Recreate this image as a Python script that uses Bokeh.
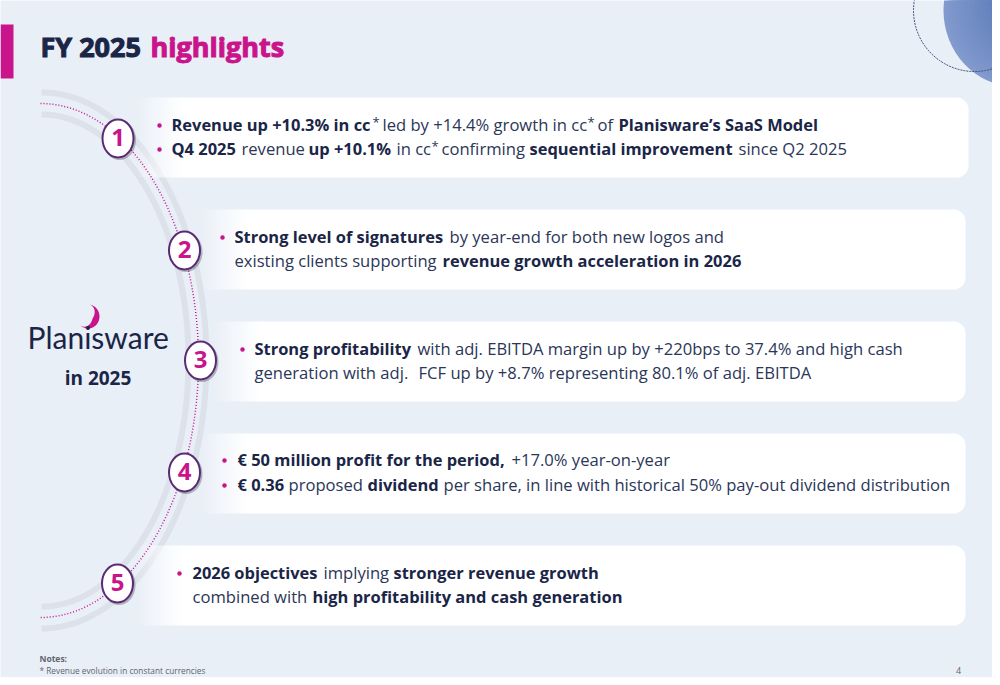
import numpy as np
from bokeh.core.properties import value
from bokeh.embed import file_html
from bokeh.models import Range1d
from bokeh.plotting import figure
from bokeh.resources import INLINE

# ---- content
TITLE_RUNS = ["FY 2025", "highlights"]
NUMBERS = ["1", "2", "3", "4", "5"]
LOGO = "Planisware"
LOGO_SUB = "in 2025"
NOTES_HEAD = "Notes:"
NOTES_BODY = "* Revenue evolution in constant currencies"
PAGE = "4"
# (text, weight) runs, one list per line; "*" marks are superscripts
CARD1_LINE1 = [("Revenue up +10.3% in cc", "b"), ("*", "s"), ("led by +14.4% growth in cc", "r"), ("*", "s"),
               ("of", "r"), ("Planisware’s SaaS Model", "b")]
CARD1_LINE2 = [("Q4 2025", "b"), ("revenue", "r"), ("up +10.1%", "b"), ("in cc", "r"), ("*", "s"),
               ("confirming", "r"), ("sequential improvement", "b"), ("since Q2 2025", "r")]
CARD2_LINE1 = [("Strong level of signatures", "b"), ("by year-end for both new logos and", "r")]
CARD2_LINE2 = [("existing clients supporting", "r"), ("revenue growth acceleration in 2026", "b")]
CARD3_LINE1 = [("Strong profitability", "b"), ("with adj. EBITDA margin up by +220bps to 37.4% and high cash", "r")]
CARD3_LINE2 = [("generation with adj.", "r"), ("FCF up by +8.7% representing 80.1% of adj. EBITDA", "r")]
CARD4_LINE1 = [("€ 50 million profit for the period,", "b"), ("+17.0% year-on-year", "r")]
CARD4_LINE2 = [("€ 0.36", "b"), ("proposed", "r"), ("dividend", "b"),
               ("per share, in line with historical 50% pay-out dividend distribution", "r")]
CARD5_LINE1 = [("2026 objectives", "b"), ("implying", "r"), ("stronger revenue growth", "b")]
CARD5_LINE2 = [("combined with", "r"), ("high profitability and cash generation", "b")]

# ---- layout (pixels of the 1000x685 slide)
BG, NAVY, INK, PINK, PURPLE = "#e9eff7", "#1a2547", "#2b3658", "#c9148c", "#5b2a74"
FONT = "Open Sans"
BODY_SIZE, BOLD_SIZE = 16.6, 16.45
BASE_SHIFT = 0.4   # share of the font size by which the renderer lowers a baseline
BASE_NUDGE = 1

RUN_X = {
    "c1l1": [171, 372, 382, 587, 597, 618], "c1l2": [171, 241, 308, 396, 431, 441, 529, 738],
    "c2l1": [234, 449], "c2l2": [234, 442],
    "c3l1": [254, 417], "c3l2": [254, 418],
    "c4l1": [237, 511], "c4l2": [237, 288, 367, 443],
    "c5l1": [192, 323, 393], "c5l2": [192, 312],
}
LINES = [
    ("c1l1", CARD1_LINE1, 132, 159), ("c1l2", CARD1_LINE2, 156, 159),
    ("c2l1", CARD2_LINE1, 244, 222), ("c2l2", CARD2_LINE2, 268, None),
    ("c3l1", CARD3_LINE1, 356, 242), ("c3l2", CARD3_LINE2, 380, None),
    ("c4l1", CARD4_LINE1, 467, 224), ("c4l2", CARD4_LINE2, 492, 224),
    ("c5l1", CARD5_LINE1, 580, 179), ("c5l2", CARD5_LINE2, 604, None),
]
CARDS = [(135, 968, 97, 177), (200, 965, 209, 289), (212, 965, 321, 401), (200, 965, 433, 513), (135, 965, 545, 625)]
BADGES = [(117.5, 138), (184, 250), (200, 360), (184, 472), (117, 583)]

W, H = 992, 677
p = figure(width=W, height=H, output_backend="svg", toolbar_location=None,
           x_range=Range1d(0, W), y_range=Range1d(H, 0), min_border=0,
           background_fill_color=BG, border_fill_color=BG, outline_line_color=None)
p.axis.visible = False
p.grid.visible = False

def arc(cx, cy, a, b, t0, t1, n=160):
    t = np.linspace(t0, t1, n)
    return cx + a * np.cos(t), cy + b * np.sin(t)

# decorative corner
BLOB_STEPS = 24
for i in range(BLOB_STEPS):
    f = i / (BLOB_STEPS - 1)
    c = "#%02x%02x%02x" % (int(130 - 58 * f), int(154 - 46 * f), int(206 - 32 * f))
    p.ellipse(x=1015 + 30 * f, y=10 - 20 * f, width=2 * 72 * (1 - .8 * f), height=2 * 76 * (1 - .8 * f),
              fill_color=c, line_color=None)
xs, ys = arc(974, 10, 61, 61, 0, 2 * np.pi, 200)
p.line(xs, ys, line_color="#3f4f78", line_width=1, line_dash=[2, 1])

# header bar
p.quad(left=0, right=13, top=24, bottom=78, fill_color=PINK, line_color=None)

# arc bands
TH = np.pi / 2
for a, b in [(165, 268), (147, 246)]:
    xs, ys = arc(41, 360, a, b, -TH, TH, 240)
    p.line(xs, ys, line_color="#dce1ea", line_width=6)

# cards: fade from the background on the left, rounded on the right
GRAD_W, GRAD_N, R = 48, 24, 12
for l, r, t, b in CARDS:
    ex, ey = arc(r - R, t + R, R, R, -TH, 0, 12)
    fx, fy = arc(r - R, b - R, R, R, 0, TH, 12)
    px = np.r_[l + GRAD_W, ex, fx, l + GRAD_W]
    py = np.r_[t, ey, fy, b]
    p.patch(px, py, fill_color="white", line_color=None)
    edges = l + np.arange(GRAD_N + 1) * GRAD_W / GRAD_N
    p.quad(left=edges[:-1], right=edges[1:] + .4, top=np.full(GRAD_N, t), bottom=np.full(GRAD_N, b),
           fill_color="white", fill_alpha=(np.arange(GRAD_N) + .5) / GRAD_N, line_color=None)

# dotted arc
xs, ys = arc(40, 360, 158, 257, -TH, TH, 400)
p.line(xs, ys, line_color=PINK, line_width=1.5, line_dash=[1, 2])

# badges
bx, by = zip(*BADGES)
bx, by = np.array(bx, float), np.array(by, float)
p.ellipse(x=bx + 1.5, y=by + 1.5, width=33, height=40, fill_color="#000000", fill_alpha=.25, line_color=None)
p.ellipse(x=bx, y=by, width=31, height=38, fill_color="white", line_color=PURPLE, line_width=2)
p.text(x=bx, y=by + 9 - BASE_SHIFT * 24, text=NUMBERS, text_font=value(FONT), text_font_style="bold",
       text_font_size="24px", text_color=PINK, text_align="center", text_baseline="alphabetic")

# texts
def put(x, y, s, size, color, style="normal", align="left", font=FONT, **kw):
    p.text(x=[x], y=[y - BASE_SHIFT * size - BASE_NUDGE], text=[s], text_font=value(font),
           text_font_size=f"{size}px", text_color=color, text_font_style=style, text_align=align,
           text_baseline="alphabetic", **kw)

put(40, 58, TITLE_RUNS[0], 27, NAVY, "bold", text_outline_color=NAVY)
put(150, 58, TITLE_RUNS[1], 27, PINK, "bold", text_outline_color=PINK)

for key, runs, base, bullet in LINES:
    if bullet is not None:
        p.scatter(x=[bullet], y=[base - 7], size=4.5, marker="circle", fill_color=PINK, line_color=None)
    for x, (s, w) in zip(RUN_X[key], runs):
        if w == "b":
            put(x, base, s, BOLD_SIZE, NAVY, "bold")
        elif w == "r":
            put(x, base, s, BODY_SIZE, INK)
        else:
            put(x, base - 4, s, 13, INK)

# logo: crescent of varying thickness above the name
CR_T = np.radians(np.linspace(-80, 130, 60))
CR_W = 6.5 * np.sin((CR_T - CR_T[0]) / (CR_T[-1] - CR_T[0]) * np.pi) ** 1.4
cx, cy = 87.5, 316
p.patch(np.r_[cx + 11.5 * np.cos(CR_T), (cx + (11.5 - CR_W) * np.cos(CR_T))[::-1]],
        np.r_[cy + 12 * np.sin(CR_T), (cy + (12 - CR_W) * np.sin(CR_T))[::-1]],
        fill_color=PINK, line_color=None)
put(27, 349, LOGO, 30, NAVY, font="Lato")
put(97.5, 386, LOGO_SUB, 19, NAVY, "bold", "center")

# notes
put(39, 662, NOTES_HEAD, 8.5, "#5f6470", "bold")
put(39, 674, NOTES_BODY, 8.3, "#5f6470")
put(958, 675, PAGE, 9, "#5f6470", align="center")

open("out.html", "w").write(file_html(p, INLINE))
